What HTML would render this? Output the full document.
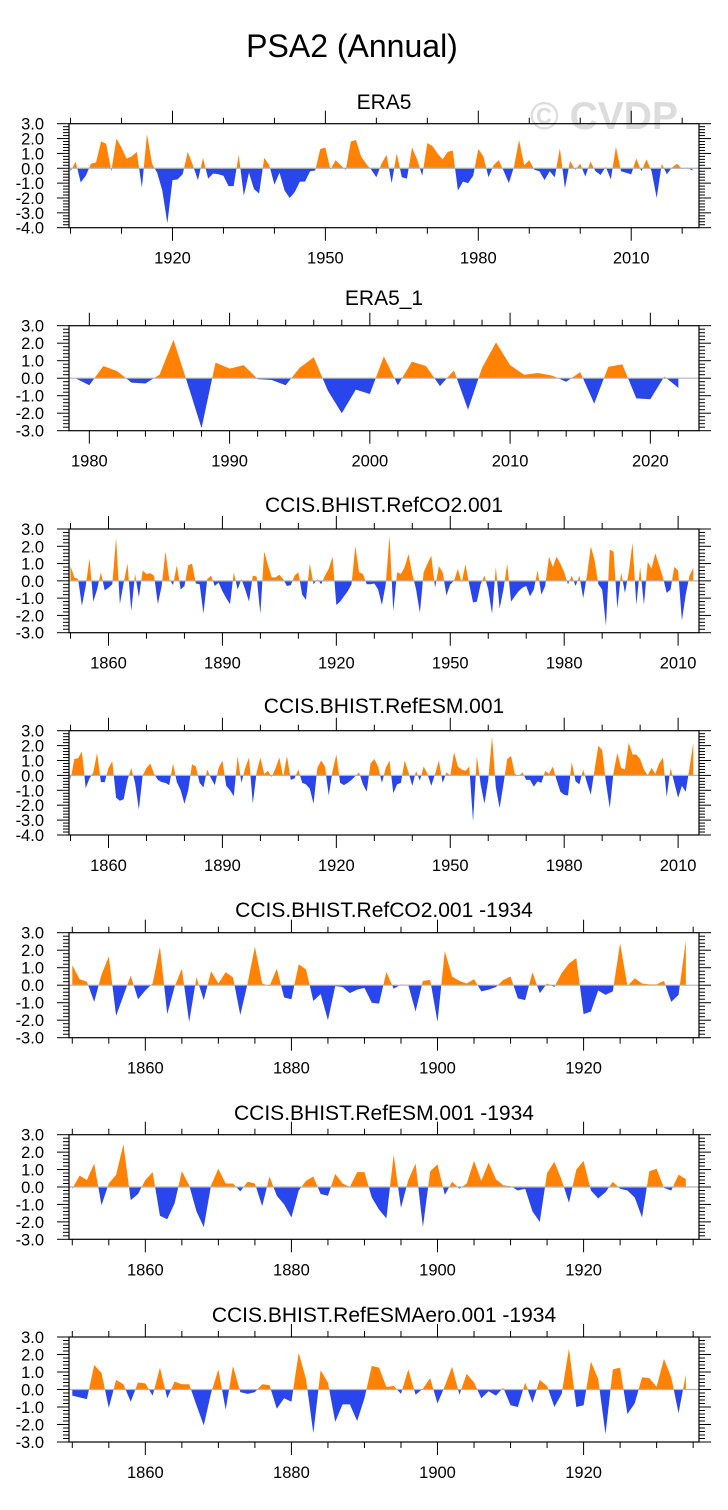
<!DOCTYPE html>
<html><head><meta charset="utf-8"><style>
html,body{margin:0;padding:0;background:#fff;}
svg{display:block;font-family:"Liberation Sans",Arial,sans-serif;}
</style></head><body>
<svg id="chart" width="728" height="1510" viewBox="0 0 728 1510">
<text x="352" y="57" font-size="32" text-anchor="middle" fill="#000">PSA2 (Annual)</text>
<text x="604" y="129" font-size="39" font-weight="bold" text-anchor="middle" fill="#dcdcdc">© CVDP</text>
</svg>
<script>
const era5Start = 1900;
const era5Vals = [-0.2,0.45,-0.95,-0.5,0.3,0.4,1.8,1.65,-0.2,2.0,1.4,0.65,0.8,1.1,-1.3,2.3,0.3,-0.3,-1.5,-3.7,
-0.8,-0.75,-0.4,1.1,0.2,-0.8,0.7,-0.7,-0.35,-0.4,-0.5,-1.2,-1.2,0.9,-1.85,-0.3,-1.4,-1.7,0.7,0.2,
-1.1,-0.3,-1.5,-2.0,-1.6,-0.9,-0.9,-0.2,-0.15,1.3,1.4,-0.1,0.55,0.2,-0.1,1.8,1.9,0.8,0.3,-0.1,
-0.6,0.3,0.9,-1.0,1.0,-0.6,-0.7,1.4,0.6,-0.5,1.7,1.5,1.0,0.6,1.1,1.2,-1.5,-0.9,-1.0,-0.5,
1.3,0.8,-0.6,0.2,0.55,-0.2,-1.0,0.1,1.9,0.2,0.55,-0.1,-0.2,-0.8,-0.2,-0.6,1.35,-1.35,0.5,-0.1,
0.3,-0.55,0.45,-0.2,-0.45,0.1,-0.75,1.45,-0.2,-0.3,-0.4,0.65,-0.2,0.6,-0.2,-2.0,0.3,-0.4,0.05,0.3,
-0.05,0.05,-0.15];
const era5_1Start = 1979;
const era5_1Vals = [0.0,-0.4,0.7,0.4,-0.25,-0.3,0.2,2.2,-0.3,-2.85,0.9,0.55,0.75,-0.05,-0.1,-0.4,0.6,1.2,-0.7,-2.0,
-0.65,-0.9,1.25,-0.4,0.95,0.7,-0.45,0.45,-1.8,0.6,2.05,0.75,0.2,0.3,0.15,-0.2,0.35,-1.45,0.65,0.8,
-1.15,-1.2,0.1,-0.55];
const refCO2Start = 1850;
const refCO2Vals = [0.85,0.2,0.1,-1.45,-0.3,1.3,-1.2,-0.5,0.5,-0.55,-0.4,-0.2,2.5,-1.35,-0.1,1.0,-1.75,0.4,-0.95,0.6,
0.4,0.45,0.3,-1.35,-0.3,1.7,0.1,-0.25,0.9,-0.5,-0.3,0.9,1.0,-0.15,-0.2,-1.9,0.1,0.3,-0.3,-0.1,
-0.6,-1.0,-1.35,0.5,-0.5,0.1,-0.5,-1.2,0.3,0.25,-1.9,1.7,0.9,0.2,0.2,0.35,0.1,-0.3,-0.25,0.3,
0.5,-0.8,-1.1,1.0,-0.2,0.1,-0.2,0.3,0.7,1.4,-1.4,-1.2,-0.9,-0.6,-0.2,2.0,0.5,0.4,-0.2,-0.2,
-0.15,-0.5,-1.4,-0.2,2.6,-1.75,0.5,0.4,0.8,1.55,0.4,-0.5,-1.85,0.5,1.0,1.45,-0.4,0.85,0.5,-0.85,
-0.2,0.0,0.7,-0.1,0.95,-0.2,-1.25,-1.2,-0.2,0.3,-0.5,-1.9,0.8,-1.6,-0.5,1.0,-1.2,-0.9,-0.6,-0.4,
-0.3,-0.9,-0.5,0.6,-0.8,-0.3,1.4,0.8,1.4,1.0,0.5,-0.2,0.3,-0.3,0.3,-1.0,0.3,2.0,1.2,-0.2,
-0.5,-2.6,1.8,1.7,-1.6,0.5,-0.7,0.5,2.2,-1.4,0.8,-1.4,1.1,0.7,1.6,0.9,0.2,-0.7,-0.5,0.8,
0.6,-2.3,-0.8,0.3,0.75];
const refESMStart = 1850;
const refESMVals = [-0.3,1.1,1.15,1.6,-0.85,-0.2,0.2,1.5,-0.45,-0.45,0.5,0.95,-1.5,-1.7,-1.6,-0.3,0.5,-0.5,-2.3,0.0,
0.5,0.8,0.1,-0.3,-0.45,-0.5,-0.65,0.8,-0.45,-1.0,-1.9,-1.0,0.75,0.6,-0.5,-0.8,0.4,-0.2,-0.65,0.5,
1.0,-0.7,-1.0,-1.4,1.3,-0.5,0.5,1.2,-1.9,0.2,1.2,0.1,0.3,-0.1,0.5,1.2,-0.1,1.3,-0.3,-0.2,
0.4,-0.5,-0.6,-0.9,-1.9,0.5,1.0,0.6,-1.35,0.3,1.4,-0.5,-0.65,-0.5,-0.3,-0.05,0.2,-0.6,-1.1,0.8,
1.1,0.6,-0.5,0.5,1.0,-1.2,-0.6,-0.5,1.0,0.2,-0.7,0.3,-0.35,0.6,0.1,-0.7,0.1,1.0,-0.5,0.2,
0.0,1.55,0.6,0.4,0.3,0.6,-3.1,1.3,-0.6,-1.9,-0.3,2.6,-0.8,-2.2,-0.6,1.1,1.3,0.1,-0.05,0.2,
-0.3,-0.3,-0.75,-0.4,-0.5,0.3,0.1,0.6,-0.3,-1.1,-1.3,-1.35,0.9,-0.4,-0.6,0.4,-0.5,-1.3,0.4,2.0,
1.7,-0.5,-2.2,0.2,1.5,0.5,0.4,2.2,1.4,1.4,1.1,0.4,0.0,0.5,0.1,0.8,1.2,-1.45,0.5,-0.5,
-1.5,-0.7,-1.1,0.5,2.2];
const refCO2_1934Start = 1850;
const refCO2_1934Vals = [1.15,0.35,0.2,-0.95,0.6,1.65,-1.75,-0.6,0.55,-0.8,-0.3,0.1,2.2,-1.65,-0.1,0.95,-2.1,0.45,-0.85,0.8,
0.1,0.75,0.45,-1.7,0.1,2.2,0.1,-0.05,0.95,-0.7,-0.8,1.2,0.9,-0.9,-0.5,-2.0,-0.05,-0.1,-0.45,-0.25,
-0.15,-1.0,-1.05,0.75,-0.2,0.05,0.0,-1.5,0.25,0.3,-2.1,1.95,0.5,0.25,0.1,0.35,-0.35,-0.25,-0.1,0.3,
0.5,-0.75,-0.85,0.75,-0.45,0.1,-0.1,0.7,1.25,1.55,-1.65,-1.5,-0.3,-0.55,-0.35,2.4,-0.05,0.4,0.1,0.05,
0.05,0.25,-0.95,-0.55,2.55];
const refESM_1934Start = 1850;
const refESM_1934Vals = [-0.1,0.65,0.4,1.35,-1.05,0.2,0.7,2.45,-0.75,-0.4,0.4,0.85,-1.65,-1.85,-0.95,0.9,0.1,-1.4,-2.3,0.1,
1.05,0.2,0.2,-0.25,0.3,0.2,-1.1,0.6,-0.5,-1.0,-1.75,-0.2,0.35,0.6,-0.4,-0.5,0.75,0.2,0.0,0.85,
0.85,-0.6,-1.3,-1.8,1.85,-1.2,0.4,1.35,-2.3,0.9,1.3,-0.45,0.3,-0.1,0.2,1.5,0.35,1.4,0.45,0.1,
0.05,-0.2,-0.1,-1.4,-2.0,0.8,1.45,0.4,-0.9,1.0,1.5,-0.2,-0.65,-0.3,0.3,-0.1,-0.2,-0.6,-1.75,0.9,
1.05,-0.05,-0.2,0.7,0.45];
const refESMAero_1934Start = 1850;
const refESMAero_1934Vals = [-0.35,-0.45,-0.55,1.4,0.95,-1.05,0.55,0.3,-0.7,0.4,0.35,-0.35,1.25,-0.5,0.45,0.3,0.3,-0.9,-2.05,-0.2,
1.15,-1.15,1.35,-0.15,-0.25,-0.15,0.3,0.25,-1.1,-0.5,-0.7,2.1,0.6,-2.5,1.1,0.4,-1.85,-0.85,-0.85,-1.8,
-0.5,1.35,1.25,0.15,0.2,-0.25,1.15,-0.3,0.05,0.65,-0.8,0.2,1.3,-0.3,0.9,0.4,-0.5,-0.1,-0.35,0.1,
-0.9,-1.0,0.4,-0.75,0.55,0.2,-1.0,-0.25,2.35,-1.0,-0.9,1.6,0.6,-2.55,1.15,1.25,-1.4,-0.8,0.7,0.65,
0.15,1.75,0.7,-1.35,0.85];

const NS = "http://www.w3.org/2000/svg";
const svg = document.getElementById('chart');
function mk(tag, attrs, parent){
  const e = document.createElementNS(NS, tag);
  for (const k in attrs) e.setAttribute(k, attrs[k]);
  (parent||svg).appendChild(e);
  return e;
}
const L = 69, R = 699;
const panels = [
  {id:'era5', title:'ERA5', vals:era5Vals, start:era5Start, top:123.7, bot:227.7, ymin:-4, ymax:3, x0:1899.7, x1:2023.3, major:30, majorStart:1920, minor:10, minorStart:1900, titleY:109},
  {id:'era5-1', title:'ERA5_1', vals:era5_1Vals, start:era5_1Start, top:325.7, bot:430.7, ymin:-3, ymax:3, x0:1978.55, x1:2023.47, major:10, majorStart:1980, minor:2, minorStart:1980, titleY:305},
  {id:'refco2', title:'CCIS.BHIST.RefCO2.001', vals:refCO2Vals, start:refCO2Start, top:529, bot:632.7, ymin:-3, ymax:3, x0:1849.6, x1:2015.5, major:30, majorStart:1860, minor:10, minorStart:1850, titleY:512},
  {id:'refesm', title:'CCIS.BHIST.RefESM.001', vals:refESMVals, start:refESMStart, top:730.7, bot:835, ymin:-4, ymax:3, x0:1849.6, x1:2015.5, major:30, majorStart:1860, minor:10, minorStart:1850, titleY:713},
  {id:'refco2-1934', title:'CCIS.BHIST.RefCO2.001 -1934', vals:refCO2_1934Vals, start:refCO2_1934Start, top:932.7, bot:1037.7, ymin:-3, ymax:3, x0:1849.55, x1:1935.8, major:20, majorStart:1860, minor:5, minorStart:1850, titleY:917},
  {id:'refesm-1934', title:'CCIS.BHIST.RefESM.001 -1934', vals:refESM_1934Vals, start:refESM_1934Start, top:1134.7, bot:1239.3, ymin:-3, ymax:3, x0:1849.55, x1:1935.8, major:20, majorStart:1860, minor:5, minorStart:1850, titleY:1120},
  {id:'refesmaero-1934', title:'CCIS.BHIST.RefESMAero.001 -1934', vals:refESMAero_1934Vals, start:refESMAero_1934Start, top:1337, bot:1442, ymin:-3, ymax:3, x0:1849.55, x1:1935.8, major:20, majorStart:1860, minor:5, minorStart:1850, titleY:1322}
];
const ORANGE = '#ff8205', BLUE = '#2846eb';
panels.forEach((p, pi) => {
  const g = mk('g', {});
  
  
  const xs = yr => L + (yr - p.x0) / (p.x1 - p.x0) * (R - L);
  const ys = v => p.top + (p.ymax - v) / (p.ymax - p.ymin) * (p.bot - p.top);
  const zy = ys(0);
  const t = mk('text', {x:(L+R)/2, y:p.titleY, 'font-size':21, 'text-anchor':'middle', fill:'#000'}, g);
  t.textContent = p.title;
  
  
  const defs = mk('defs', {}, g);
  const cA = mk('clipPath', {id:'ca'+pi}, defs);
  mk('rect', {x:L, y:p.top, width:R-L, height:zy-p.top}, cA);
  const cB = mk('clipPath', {id:'cb'+pi}, defs);
  mk('rect', {x:L, y:zy, width:R-L, height:p.bot-zy}, cB);
  let pts = xs(p.start).toFixed(2) + ',' + zy.toFixed(2);
  p.vals.forEach((v, i) => { pts += ' ' + xs(p.start + i).toFixed(2) + ',' + ys(v).toFixed(2); });
  pts += ' ' + xs(p.start + p.vals.length - 1).toFixed(2) + ',' + zy.toFixed(2);
  const pos = mk('polygon', {points:pts, fill:ORANGE, 'clip-path':'url(#ca'+pi+')'}, g);
  
  
  const neg = mk('polygon', {points:pts, fill:BLUE, 'clip-path':'url(#cb'+pi+')'}, g);
  
  
  const zl = mk('line', {x1:L, x2:R, y1:zy, y2:zy, stroke:'#b4b4b4', 'stroke-width':1.2}, g);
  
  
  const fr = mk('rect', {x:L, y:p.top, width:R-L, height:p.bot-p.top, fill:'none', stroke:'#000', 'stroke-width':1.2}, g);
  
  
  const nMin = Math.round((p.ymax - p.ymin) / 0.2);
  for (let k = 0; k <= nMin; k++) {
    const v = p.ymin + k * 0.2;
    const y = ys(v);
    const isMaj = k % 5 === 0;
    const len = isMaj ? 12 : 6;
    mk('line', {x1:L-len, x2:L, y1:y, y2:y, stroke:'#000', 'stroke-width':1}, g);
    mk('line', {x1:R, x2:R+len, y1:y, y2:y, stroke:'#000', 'stroke-width':1}, g);
    if (isMaj) {
      const lb = mk('text', {x:44, y:y+6, 'font-size':16.5, 'text-anchor':'end', fill:'#000'}, g);
      lb.textContent = v.toFixed(1);
      
      
    }
  }
  for (let yr = p.minorStart; yr <= p.x1; yr += p.minor) {
    if (yr < p.x0) continue;
    const x = xs(yr);
    const isMaj = ((yr - p.majorStart) % p.major === 0) && yr >= p.majorStart;
    const len = isMaj ? 13 : 6;
    mk('line', {x1:x, x2:x, y1:p.top-len, y2:p.top, stroke:'#000', 'stroke-width':1}, g);
    mk('line', {x1:x, x2:x, y1:p.bot, y2:p.bot+len, stroke:'#000', 'stroke-width':1}, g);
    if (isMaj) {
      const lb = mk('text', {x:x, y:p.bot+36, 'font-size':16.5, 'text-anchor':'middle', fill:'#000'}, g);
      lb.textContent = String(yr);
      
      
    }
  }
});
</script>
</body></html>
